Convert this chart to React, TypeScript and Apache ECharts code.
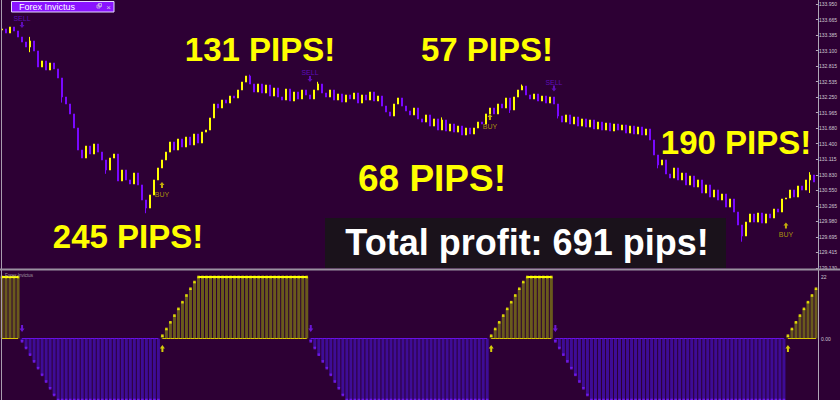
import React, { useEffect, useRef } from "react";
import * as echarts from "echarts";

const FIRST_OPEN = 133.475;
const CLOSE = [
  133.494, 133.42, 133.53, 133.457, 133.347, 133.256, 133.165, 133.275, 133.092, 132.8,
  132.91, 132.745, 132.873, 132.764, 132.599, 132.252, 132.124, 131.942, 131.686, 131.284,
  131.138, 131.357, 131.211, 131.394, 131.247, 131.102, 130.919, 131.138, 131.211, 130.719,
  130.919, 130.737, 130.664, 130.864, 130.646, 130.371, 130.225, 130.463, 130.737, 130.956,
  131.102, 131.247, 131.43, 131.284, 131.485, 131.339, 131.521, 131.376, 131.576, 131.412,
  131.612, 131.649, 131.869, 132.124, 132.051, 132.197, 132.142, 132.27, 132.234, 132.38,
  132.525, 132.635, 132.489, 132.343, 132.489, 132.325, 132.471, 132.27, 132.416, 132.252,
  132.197, 132.398, 132.179, 132.343, 132.216, 132.38, 132.289, 132.216, 132.38, 132.489,
  132.325, 132.252, 132.38, 132.197, 132.307, 132.16, 132.289, 132.216, 132.325, 132.142,
  132.289, 132.197, 132.343, 132.179, 132.27, 132.087, 131.978, 131.905, 132.124, 132.234,
  132.087, 131.997, 131.924, 132.051, 131.851, 131.795, 131.924, 131.722, 131.851, 131.649,
  131.832, 131.631, 131.759, 131.612, 131.722, 131.558, 131.686, 131.576, 131.686, 131.795,
  131.759, 131.942, 132.051, 131.942, 132.124, 132.051, 132.234, 132.015, 132.252, 132.38,
  132.452, 132.289, 132.216, 132.307, 132.179, 132.27, 132.142, 132.252, 132.124, 131.905,
  131.795, 131.924, 131.759, 131.887, 131.722, 131.851, 131.704, 131.832, 131.668, 131.795,
  131.649, 131.777, 131.631, 131.759, 131.649, 131.741, 131.594, 131.722, 131.576, 131.704,
  131.558, 131.668, 131.467, 131.193, 131.011, 131.102, 130.846, 130.773, 130.956, 130.737,
  130.864, 130.646, 130.809, 130.609, 130.737, 130.499, 130.646, 130.426, 130.554, 130.371,
  130.481, 130.243, 130.39, 130.152, 129.915, 129.714, 129.969, 130.116, 129.969, 130.134,
  129.951, 130.116, 130.043, 130.207, 130.152, 130.39, 130.408, 130.554, 130.426, 130.627,
  130.554, 130.737, 130.828, 130.7,
];
const LOW_WICKS = [
  [7, 133.07], [15, 132.15], [26, 130.85], [36, 130.13], [127, 131.96], [139, 131.86],
  [164, 130.95], [185, 129.61], [202, 130.5],
];
const HIGH_WICKS = [[7, 133.35], [62, 132.66], [79, 132.53], [110, 131.88], [130, 132.48], [202, 130.88]];

const IND = [
  22, 22, 22, 22, 22,
  -1, -3.4, -5.8, -8.2, -10.6, -13, -15.4, -17.8, -20.2, -22,
  -22, -22, -22, -22, -22, -22, -22, -22, -22, -22, -22, -22, -22, -22, -22, -22, -22, -22, -22, -22, -22, -22, -22, -22, -22,
  1, 3.4, 5.8, 8.2, 10.6, 13, 15.4, 17.8, 20.2, 22,
  22, 22, 22, 22, 22, 22, 22, 22, 22, 22, 22, 22, 22, 22, 22, 22, 22, 22, 22, 22, 22, 22, 22, 22, 22, 22, 22,
  -1, -3.4, -5.8, -8.2, -10.6, -13, -15.4, -17.8, -20.2, -22,
  -22, -22, -22, -22, -22, -22, -22, -22, -22, -22, -22, -22, -22, -22, -22, -22, -22, -22, -22, -22, -22, -22, -22, -22, -22, -22, -22, -22, -22, -22, -22, -22, -22, -22, -22,
  1, 3.4, 5.8, 8.2, 10.6, 13, 15.4, 17.8, 20.2, 22,
  22, 22, 22, 22, 22, 22,
  -1, -3.4, -5.8, -8.2, -10.6, -13, -15.4, -17.8, -20.2, -22,
  -22, -22, -22, -22, -22, -22, -22, -22, -22, -22, -22, -22, -22, -22, -22, -22, -22, -22, -22, -22, -22, -22, -22, -22,
  -22, -22, -22, -22, -22, -22, -22, -22, -22, -22, -22, -22, -22, -22, -22, -22, -22, -22, -22, -22, -22, -22, -22, -22,
  1, 3.4, 5.8, 8.2, 10.6, 13, 15.4, 17.8,
];

const SELL_IDX = [5, 77, 138];
const SELL_PRICE = [133.567, 132.581, 132.407];
const BUY_IDX = [40, 122, 196];
const BUY_PRICE = [130.645, 131.887, 129.906];

const PRICE_TICKS = [
  129.13, 129.415, 129.695, 129.98, 130.265, 130.55, 130.83, 131.115, 131.4,
  131.68, 131.965, 132.25, 132.535, 132.815, 133.1, 133.385, 133.665, 133.95,
];
const IND_TICKS = [0, 22];

const PIPS_LABELS = ["131 PIPS!", "57 PIPS!", "68 PIPS!", "190 PIPS!", "245 PIPS!"];
const TOTAL_LABEL = "Total profit: 691 pips!";

const BG = "#2d0034";
const YEL = "#ffff00";
const PUR = "#7a08ff";
const UP_ARROW = "path://M4,0L8,4.5L5.6,4.5L5.6,9L2.4,9L2.4,4.5L0,4.5Z";
const DOWN_ARROW = "path://M2.4,0L5.6,0L5.6,4.5L8,4.5L4,9L0,4.5L2.4,4.5Z";

export default function App() {
  const ref = useRef<HTMLDivElement>(null);
  useEffect(() => {
    document.body.style.margin = "0";
    const chart = echarts.init(ref.current!, null, { renderer: "svg" });
    const idx = CLOSE.map((_, i) => String(i));
    const lowMap: Record<number, number> = {};
    LOW_WICKS.forEach(([i, v]) => (lowMap[i] = v));
    const highMap: Record<number, number> = {};
    HIGH_WICKS.forEach(([i, v]) => (highMap[i] = v));
    const candles = CLOSE.map((c, i) => {
      const o = i === 0 ? FIRST_OPEN : CLOSE[i - 1];
      const lo = Math.min(o, c, lowMap[i] ?? Infinity);
      const hi = Math.max(o, c, highMap[i] ?? -Infinity);
      return [o, c, lo, hi];
    });
    const big = (text: string, x: number, y: number, size = 33, fill = YEL) => ({
      type: "text",
      x,
      y,
      silent: true,
      style: {
        text,
        fill,
        font: `bold ${size}px "Liberation Sans", Arial, sans-serif`,
        textAlign: "center",
        textVerticalAlign: "middle",
      },
      z: 100,
    });
    const option: any = {
      animation: false,
      backgroundColor: BG,
      grid: [
        { left: 0, right: 22, top: 4, height: 264 },
        { left: 0, right: 22, top: 277, height: 126 },
      ],
      xAxis: [
        { type: "category", data: idx, gridIndex: 0, show: false },
        { type: "category", data: idx, gridIndex: 1, show: false },
      ],
      yAxis: [
        {
          gridIndex: 0,
          type: "value",
          position: "right",
          min: 129.13,
          max: 133.95,
          splitLine: { show: false },
          axisLine: { show: false },
          axisTick: { show: true, length: 2, lineStyle: { color: "#b8b0bc" }, customValues: PRICE_TICKS },
          axisLabel: {
            customValues: PRICE_TICKS,
            formatter: (v: number) => v.toFixed(3),
            fontSize: 5,
            color: "#cfc8d2",
            margin: 3,
            fontFamily: "Liberation Sans",
          },
        },
        {
          gridIndex: 1,
          type: "value",
          position: "right",
          min: -22,
          max: 22,
          splitLine: { show: false },
          axisLine: { show: false },
          axisTick: { show: false },
          axisLabel: {
            customValues: IND_TICKS,
            formatter: (v: number) => (v === 0 ? "0.00" : String(v)),
            fontSize: 5,
            color: "#cfc8d2",
            margin: 3,
            fontFamily: "Liberation Sans",
          },
        },
      ],
      series: [
        {
          type: "candlestick",
          xAxisIndex: 0,
          yAxisIndex: 0,
          data: candles,
          barWidth: 1.8,
          itemStyle: { color: YEL, color0: PUR, borderColor: YEL, borderColor0: PUR, borderWidth: 1 },
        },
        {
          type: "scatter",
          xAxisIndex: 0,
          yAxisIndex: 0,
          data: SELL_IDX.map((i, k) => [i, SELL_PRICE[k]]),
          symbol: DOWN_ARROW,
          symbolSize: [5, 6],
          itemStyle: { color: "#6a10d8" },
          label: { show: true, position: "top", distance: 0, formatter: "SELL", color: "#6a10d8", fontSize: 7, fontFamily: "Liberation Sans" },
        },
        {
          type: "scatter",
          xAxisIndex: 0,
          yAxisIndex: 0,
          data: BUY_IDX.map((i, k) => [i, BUY_PRICE[k]]),
          symbol: UP_ARROW,
          symbolSize: [5, 6],
          itemStyle: { color: "#e8d800" },
          label: { show: true, position: "bottom", distance: 3, formatter: "BUY", color: "#cbb800", fontSize: 7, fontFamily: "Liberation Sans" },
        },
        {
          type: "bar",
          xAxisIndex: 1,
          yAxisIndex: 1,
          data: IND,
          barWidth: "75%",
          itemStyle: { color: (p: any) => (p.value > 0 ? "#695a1c" : "#3e0c96") },
        },
        {
          type: "line",
          xAxisIndex: 1,
          yAxisIndex: 1,
          data: IND.map((v) => (v > 0 ? 0 : null)),
          symbol: "none",
          lineStyle: { color: "#d8c800", width: 1 },
        },
        {
          type: "line",
          xAxisIndex: 1,
          yAxisIndex: 1,
          data: IND.map((v) => (v < 0 ? 0 : null)),
          symbol: "none",
          lineStyle: { color: "#6a10e8", width: 1 },
        },
        {
          type: "line",
          xAxisIndex: 1,
          yAxisIndex: 1,
          data: IND.map((v) => (v === 22 ? 22 : null)),
          symbol: "none",
          lineStyle: { color: YEL, width: 2 },
        },
        {
          type: "scatter",
          xAxisIndex: 1,
          yAxisIndex: 1,
          data: IND.map((v, i) => [i, v]),
          symbol: "rect",
          symbolSize: 2.6,
          itemStyle: { color: (p: any) => (p.value[1] > 0 ? YEL : "#7b1cff") },
        },
        {
          type: "scatter",
          xAxisIndex: 1,
          yAxisIndex: 1,
          data: SELL_IDX.map((i) => [i, 0]),
          symbol: DOWN_ARROW,
          symbolSize: [5, 7],
          symbolOffset: [0, -10],
          itemStyle: { color: "#7b1cff" },
        },
        {
          type: "scatter",
          xAxisIndex: 1,
          yAxisIndex: 1,
          data: BUY_IDX.map((i) => [i, 0]),
          symbol: UP_ARROW,
          symbolSize: [5, 7],
          symbolOffset: [0, 10],
          itemStyle: { color: YEL },
        },
      ],
      graphic: [
        { type: "line", shape: { x1: 1.5, y1: 0, x2: 1.5, y2: 400 }, style: { stroke: "#a89cae", lineWidth: 1 }, z: 50 },
        { type: "line", shape: { x1: 818.5, y1: 0, x2: 818.5, y2: 400 }, style: { stroke: "#b0a6b6", lineWidth: 1 }, z: 50 },
        { type: "line", shape: { x1: 0, y1: 269.5, x2: 840, y2: 269.5 }, style: { stroke: "#9a90a0", lineWidth: 2 }, z: 50 },
        {
          type: "text",
          x: 5,
          y: 275,
          style: { text: "Forex Invictus", fill: "#a098a4", font: '4.5px "Liberation Sans"', textVerticalAlign: "middle" },
          z: 60,
        },
        { type: "rect", shape: { x: 11.5, y: 1.5, width: 102.5, height: 10.5 }, style: { fill: "#8a14ff", stroke: "#e6dcff", lineWidth: 1 }, z: 60 },
        {
          type: "text",
          x: 19,
          y: 7,
          style: { text: "Forex Invictus", fill: "#ffffff", font: '9px "Liberation Sans"', textVerticalAlign: "middle" },
          z: 61,
        },
        { type: "rect", shape: { x: 97, y: 5, width: 3, height: 3 }, style: { fill: "none", stroke: "#c8c0d8", lineWidth: 0.8 }, z: 61 },
        { type: "rect", shape: { x: 98.5, y: 3.5, width: 3, height: 3 }, style: { fill: "none", stroke: "#c8c0d8", lineWidth: 0.8 }, z: 61 },
        {
          type: "text",
          x: 108.5,
          y: 7,
          style: { text: "×", fill: "#d0c8e0", font: '8px "Liberation Sans"', textAlign: "center", textVerticalAlign: "middle" },
          z: 61,
        },
        big(PIPS_LABELS[0], 260, 49),
        big(PIPS_LABELS[1], 487, 49),
        big(PIPS_LABELS[2], 432, 178, 37),
        big(PIPS_LABELS[3], 736, 142),
        big(PIPS_LABELS[4], 128, 236),
        { type: "rect", shape: { x: 325, y: 218, width: 401, height: 50 }, style: { fill: "rgba(24,20,24,0.88)" }, z: 90 },
        big(TOTAL_LABEL, 527, 242, 36, "#ffffff"),
      ],
    };
    chart.setOption(option);
    return () => chart.dispose();
  }, []);
  return <div ref={ref} style={{ width: 840, height: 400, background: BG }} />;
}
